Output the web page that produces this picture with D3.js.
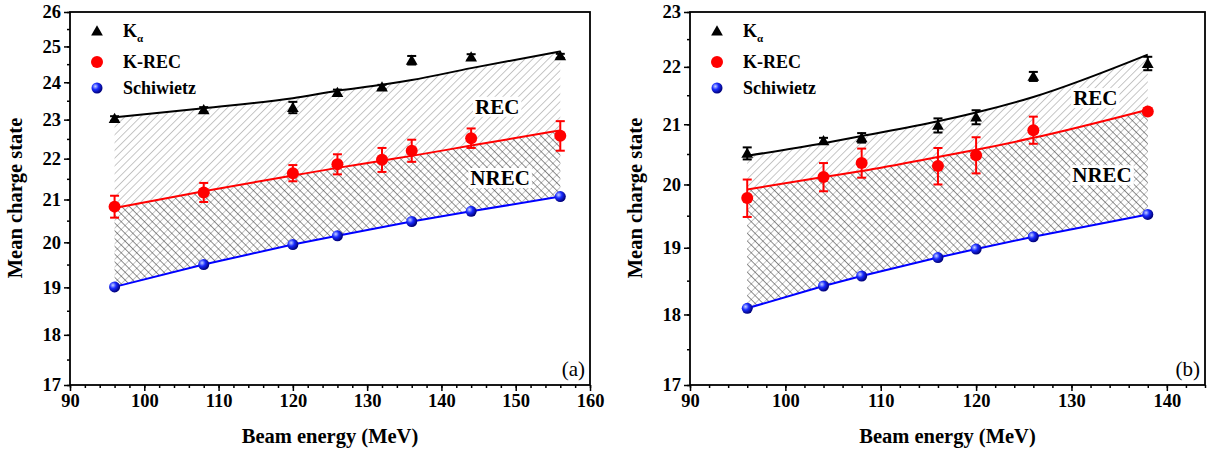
<!DOCTYPE html>
<html>
<head>
<meta charset="utf-8">
<script src="https://cdn.jsdelivr.net/npm/d3@7"></script>
<style>
  body { margin: 0; background: #fff; }
  svg { display: block; }
  svg text { font-family: "Liberation Serif", "Times New Roman", Tinos, "DejaVu Serif", serif !important; }
</style>
</head>
<body>
<svg id="chart" width="1209" height="449"></svg>
<script>
// Panel (a) data
const energyA = [96, 108, 120, 126, 132, 136, 144, 156];
const kaA = [23.03, 23.26, 23.32, 23.72, 23.87, 24.61, 24.7, 24.73];
const kaErrA = [0.06, 0.07, 0.15, 0.08, 0.06, 0.12, 0.08, 0.06];
const kaFitA = [23.06, 23.3, 23.57, 23.77, 23.93, 24.06, 24.39, 24.86];
const krecA = [20.83, 21.17, 21.64, 21.86, 21.97, 22.2, 22.52, 22.58];
const krecErrA = [0.26, 0.23, 0.2, 0.25, 0.3, 0.28, 0.25, 0.38];
const krecFitA = [20.8, 21.2, 21.58, 21.77, 21.95, 22.07, 22.33, 22.72];
const schEnergyA = [96, 108, 120, 126, 136, 144, 156];
const schA = [19.01, 19.5, 19.95, 20.15, 20.48, 20.72, 21.07];

// Panel (b) data
const energyB = [96, 104, 108, 116, 120, 126, 138];
const kaB = [20.51, 20.72, 20.77, 20.98, 21.12, 21.83, 22.06];
const kaErrB = [0.1, 0.05, 0.08, 0.12, 0.12, 0.08, 0.12];
const kaFitB = [20.47, 20.68, 20.8, 21.05, 21.2, 21.47, 22.22];
const krecB = [19.78, 20.12, 20.35, 20.3, 20.48, 20.9, 21.22];
const krecErrB = [0.3, 0.23, 0.24, 0.3, 0.3, 0.23, 0.05];
const krecFitB = [19.92, 20.12, 20.22, 20.45, 20.57, 20.77, 21.25];
const schEnergyB = energyB;
const schB = [18.09, 18.42, 18.57, 18.85, 18.98, 19.17, 19.52];

const legendNames = ['K', 'K-REC', 'Schiwietz'];
const FONT = '"Liberation Serif", "Times New Roman", Tinos, "DejaVu Serif", serif';

const svg = d3.select('#chart').attr('font-family', FONT);
const defs = svg.append('defs');

// hatch patterns
const hatch = (id, angle, color, w) => {
  const p = defs.append('pattern')
    .attr('id', id)
    .attr('patternUnits', 'userSpaceOnUse')
    .attr('width', 5.5)
    .attr('height', 5.5)
    .attr('patternTransform', `rotate(${angle})`);
  p.append('line')
    .attr('x1', 0).attr('y1', 0)
    .attr('x2', 0).attr('y2', 5.5)
    .attr('stroke', color)
    .attr('stroke-width', w);
};
hatch('hatch-rec', 45, '#8e8e8e', 1);
hatch('hatch-nrec', -45, '#333', 1.1);

const ball = defs.append('radialGradient')
  .attr('id', 'ball')
  .attr('cx', '35%').attr('cy', '35%').attr('r', '65%');
ball.append('stop').attr('offset', '0%').attr('stop-color', '#c8d4ff');
ball.append('stop').attr('offset', '45%').attr('stop-color', '#1a2cff');
ball.append('stop').attr('offset', '100%').attr('stop-color', '#00007a');

function drawPanel(opt) {
  const x = d3.scaleLinear().domain(opt.xDomain).range([opt.left, opt.right]);
  const y = d3.scaleLog().domain(opt.yDomain).range([385, 12]);
  const g = svg.append('g');

  const line = d3.line()
    .x(d => x(d[0]))
    .y(d => y(d[1]))
    .curve(d3.curveMonotoneX);
  const poly = d3.line().x(d => x(d[0])).y(d => y(d[1]));

  const kaFit = opt.energy.map((e, i) => [e, opt.kaFit[i]]);
  const krecFit = opt.energy.map((e, i) => [e, opt.krecFit[i]]);
  const sch = opt.schEnergy.map((e, i) => [e, opt.sch[i]]);
  const schBack = 'L' + poly(sch.slice().reverse()).slice(1) + 'Z';

  // REC hatch from Kα fit down to Schiwietz, NREC hatch from K-REC fit down
  g.append('path')
    .attr('d', line(kaFit) + schBack)
    .attr('fill', 'url(#hatch-rec)');
  g.append('path')
    .attr('d', line(krecFit) + schBack)
    .attr('fill', 'url(#hatch-nrec)');

  // REC / NREC labels with white boxes
  [['REC', opt.recPos], ['NREC', opt.nrecPos]].forEach(([t, p]) => {
    const txt = g.append('text')
      .attr('x', x(p[0])).attr('y', y(p[1]))
      .attr('text-anchor', 'middle')
      .attr('dominant-baseline', 'central')
      .attr('font-weight', 'bold')
      .attr('font-size', 21)
      .text(t);
    const bb = txt.node().getBBox();
    g.insert('rect', () => txt.node())
      .attr('x', bb.x - 2).attr('y', bb.y + 2)
      .attr('width', bb.width + 4).attr('height', bb.height - 4)
      .attr('fill', '#fff');
  });

  // fit lines
  g.append('path').attr('d', line(kaFit)).attr('fill', 'none')
    .attr('stroke', '#000').attr('stroke-width', 2);
  g.append('path').attr('d', line(krecFit)).attr('fill', 'none')
    .attr('stroke', '#ff0000').attr('stroke-width', 2);
  g.append('path').attr('d', poly(sch)).attr('fill', 'none')
    .attr('stroke', '#0000ff').attr('stroke-width', 2);

  // error bars
  const errBars = (vals, errs, color) => {
    opt.energy.forEach((e, i) => {
      const cx = x(e), y0 = y(vals[i] - errs[i]), y1 = y(vals[i] + errs[i]);
      g.append('line').attr('x1', cx).attr('x2', cx).attr('y1', y0).attr('y2', y1)
        .attr('stroke', color).attr('stroke-width', 2);
      [y0, y1].forEach(yy => g.append('line')
        .attr('x1', cx - 4.5).attr('x2', cx + 4.5).attr('y1', yy).attr('y2', yy)
        .attr('stroke', color).attr('stroke-width', 2));
    });
  };
  errBars(opt.krec, opt.krecErr, '#ff0000');
  errBars(opt.ka, opt.kaErr, '#000');

  // markers
  const tri = d3.symbol().type(d3.symbolTriangle).size(60);
  opt.energy.forEach((e, i) => {
    g.append('path').attr('d', tri)
      .attr('transform', `translate(${x(e)},${y(opt.ka[i]) + 1})`)
      .attr('fill', '#000');
    g.append('circle').attr('cx', x(e)).attr('cy', y(opt.krec[i])).attr('r', 6)
      .attr('fill', '#ff0000');
  });
  sch.forEach(d => {
    g.append('circle').attr('cx', x(d[0])).attr('cy', y(d[1])).attr('r', 5.5)
      .attr('fill', 'url(#ball)');
  });

  // axes
  const xAxis = g.append('g').attr('transform', 'translate(0,385)')
    .call(d3.axisBottom(x).tickValues(d3.range(opt.xDomain[0], opt.xDomain[1] + 1, 10))
      .tickSize(6).tickSizeOuter(0).tickPadding(3).tickFormat(d3.format('d')));
  g.append('g').attr('transform', 'translate(0,385)')
    .call(d3.axisBottom(x).tickValues(d3.range(opt.xDomain[0], opt.xDomain[1] + 0.1, 2))
      .tickSize(3).tickFormat(''));
  const yAxis = g.append('g').attr('transform', `translate(${opt.left},0)`)
    .call(d3.axisLeft(y).tickValues(d3.range(opt.yDomain[0], opt.yDomain[1] + 1, 1))
      .tickSize(6).tickSizeOuter(0).tickPadding(3).tickFormat(d3.format('d')));
  g.append('g').attr('transform', `translate(${opt.left},0)`)
    .call(d3.axisLeft(y).tickValues(d3.range(opt.yDomain[0], opt.yDomain[1] + 0.1, 0.5))
      .tickSize(3).tickFormat(''));
  g.selectAll('.domain').remove();
  g.selectAll('g').attr('font-family', null);
  g.selectAll('.tick line').attr('stroke', '#000').attr('stroke-width', 1.5);
  [xAxis, yAxis].forEach(a => a.selectAll('text')
    .style('font-family', FONT)
    .attr('font-weight', 'bold')
    .attr('font-size', 18.5)
    .attr('fill', '#000'));

  // frame
  g.append('rect')
    .attr('x', opt.left).attr('y', 12)
    .attr('width', opt.right - opt.left).attr('height', 373)
    .attr('fill', 'none').attr('stroke', '#000').attr('stroke-width', 1.8);

  // axis titles
  g.append('text')
    .attr('x', (opt.left + opt.right) / 2).attr('y', 443)
    .attr('text-anchor', 'middle').attr('font-weight', 'bold').attr('font-size', 20.5)
    .text('Beam energy (MeV)');
  g.append('text')
    .attr('transform', `translate(${opt.left - 48},198) rotate(-90)`)
    .attr('text-anchor', 'middle').attr('font-weight', 'bold').attr('font-size', 20.5)
    .text('Mean charge state');

  // panel tag
  g.append('text')
    .attr('x', opt.right - 5).attr('y', 376)
    .attr('text-anchor', 'end').attr('font-size', 21)
    .text(opt.tag);

  // legend
  const lx = opt.left + 27, tx = opt.left + 53;
  const leg = g.append('g');
  leg.append('path').attr('d', tri).attr('transform', `translate(${lx},32)`).attr('fill', '#000');
  const kt = leg.append('text').attr('x', tx).attr('y', 37)
    .attr('font-weight', 'bold').attr('font-size', 18).text(legendNames[0]);
  kt.append('tspan').attr('dy', 5).attr('font-size', 11).attr('font-weight', 'bold').text('α');
  leg.append('circle').attr('cx', lx).attr('cy', 62).attr('r', 6).attr('fill', '#ff0000');
  leg.append('text').attr('x', tx).attr('y', 68)
    .attr('font-weight', 'bold').attr('font-size', 18).text(legendNames[1]);
  leg.append('circle').attr('cx', lx).attr('cy', 88).attr('r', 5.5).attr('fill', 'url(#ball)');
  leg.append('text').attr('x', tx).attr('y', 94)
    .attr('font-weight', 'bold').attr('font-size', 18).text(legendNames[2]);
}

drawPanel({
  left: 70, right: 590, xDomain: [90, 160], yDomain: [17, 26], tag: '(a)',
  energy: energyA, ka: kaA, kaErr: kaErrA, kaFit: kaFitA,
  krec: krecA, krecErr: krecErrA, krecFit: krecFitA,
  schEnergy: schEnergyA, sch: schA,
  recPos: [147.5, 23.34], nrecPos: [147.9, 21.52]
});

drawPanel({
  left: 690, right: 1205, xDomain: [90, 144], yDomain: [17, 23], tag: '(b)',
  energy: energyB, ka: kaB, kaErr: kaErrB, kaFit: kaFitB,
  krec: krecB, krecErr: krecErrB, krecFit: krecFitB,
  schEnergy: schEnergyB, sch: schB,
  recPos: [132.5, 21.45], nrecPos: [133.2, 20.15]
});
</script>
</body>
</html>
